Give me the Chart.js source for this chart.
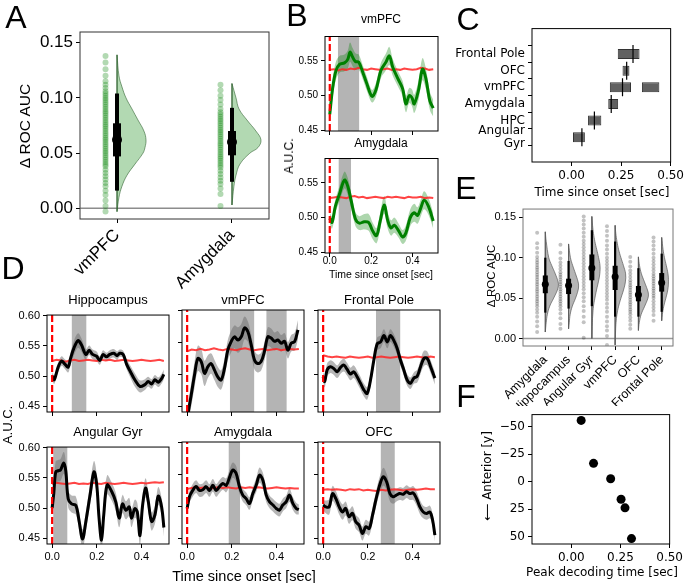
<!DOCTYPE html>
<html>
<head>
<meta charset="utf-8">
<script src="https://cdn.jsdelivr.net/npm/chart.js@4.4.0/dist/chart.umd.min.js"></script>
<style>
  body { margin: 0; background: #fff; width: 685px; height: 583px; position: relative; overflow: hidden; }
  canvas { position: absolute; }
  .t { position: absolute; white-space: nowrap; line-height: 1; color: #000; transform: translate(-50%, -50%); }
</style>
</head>
<body>
<script>
// ---- A: violins ----
const aRegions = ['vmPFC', 'Amygdala'];
const aMedian = [0.062, 0.060];
const aBoxLow = [0.047, 0.048];
const aBoxHigh = [0.077, 0.070];
const aWhiskLow = [0.016, 0.024];
const aWhiskHigh = [0.104, 0.091];
const aViolinY = [
  [0.139, 0.12, 0.11, 0.10, 0.09, 0.08, 0.07, 0.062, 0.055, 0.05, 0.04, 0.03, 0.02, 0.01, -0.003],
  [0.113, 0.10, 0.09, 0.08, 0.07, 0.062, 0.055, 0.05, 0.04, 0.03, 0.02, 0.003]
];
const aViolinW = [
  [0, 0.017, 0.043, 0.078, 0.13, 0.182, 0.234, 0.252, 0.243, 0.226, 0.156, 0.087, 0.043, 0.017, 0],
  [0, 0.035, 0.061, 0.13, 0.208, 0.252, 0.226, 0.156, 0.069, 0.035, 0.017, 0]
];
const aDots = [
  [0.138, 0.132, 0.126, 0.12, 0.115, 0.112, 0.109, 0.106, 0.104, 0.102, 0.1, 0.098, 0.096, 0.094, 0.092, 0.09, 0.088, 0.086, 0.084, 0.082, 0.08, 0.078, 0.076, 0.074, 0.072, 0.07, 0.068, 0.066, 0.064, 0.062, 0.06, 0.058, 0.056, 0.054, 0.052, 0.05, 0.048, 0.046, 0.044, 0.042, 0.04, 0.038, 0.035, 0.032, 0.029, 0.026, 0.023, 0.02, 0.016, 0.012, 0.007, 0.002, -0.003],
  [0.112, 0.107, 0.102, 0.098, 0.094, 0.09, 0.087, 0.085, 0.083, 0.081, 0.079, 0.077, 0.075, 0.073, 0.071, 0.069, 0.067, 0.065, 0.063, 0.061, 0.059, 0.057, 0.055, 0.053, 0.051, 0.049, 0.047, 0.045, 0.043, 0.041, 0.039, 0.037, 0.034, 0.031, 0.028, 0.025, 0.022, 0.018, 0.013, 0.002]
];

// ---- shared null (red) curve time grid ----
const redT = [0, 0.02, 0.04, 0.06, 0.08, 0.1, 0.12, 0.14, 0.16, 0.18, 0.2, 0.22, 0.24, 0.26, 0.28, 0.3, 0.32, 0.34, 0.36, 0.38, 0.4, 0.42, 0.44, 0.46, 0.48, 0.5];

// ---- B: vmPFC / Amygdala (green) ----
const bVmT = [0, 0.014, 0.03, 0.047, 0.071, 0.087, 0.098, 0.111, 0.124, 0.14, 0.159, 0.178, 0.204, 0.223, 0.247, 0.271, 0.288, 0.304, 0.328, 0.352, 0.368, 0.384, 0.397, 0.408, 0.429, 0.448, 0.464, 0.484, 0.5];
const bVmMean = [0.473, 0.511, 0.536, 0.545, 0.547, 0.552, 0.5625, 0.555, 0.549, 0.548, 0.534, 0.518, 0.499, 0.508, 0.536, 0.548, 0.557, 0.541, 0.525, 0.510, 0.488, 0.500, 0.497, 0.488, 0.508, 0.538, 0.525, 0.492, 0.482];
const bVmErr = [0.012, 0.014, 0.013, 0.012, 0.012, 0.013, 0.014, 0.013, 0.012, 0.011, 0.01, 0.01, 0.009, 0.01, 0.011, 0.012, 0.013, 0.012, 0.011, 0.011, 0.012, 0.011, 0.012, 0.013, 0.014, 0.016, 0.015, 0.013, 0.012];
const bVmShade = [[0.039, 0.143]];
const bRedVm = [0.537, 0.538, 0.536, 0.538, 0.537, 0.539, 0.538, 0.540, 0.538, 0.537, 0.539, 0.538, 0.537, 0.538, 0.539, 0.537, 0.538, 0.537, 0.539, 0.538, 0.537, 0.538, 0.540, 0.539, 0.537, 0.538];

const bAmT = [0, 0.011, 0.027, 0.047, 0.071, 0.087, 0.103, 0.124, 0.143, 0.167, 0.188, 0.207, 0.226, 0.243, 0.263, 0.28, 0.296, 0.312, 0.333, 0.352, 0.368, 0.389, 0.408, 0.424, 0.44, 0.456, 0.477, 0.5];
const bAmMean = [0.499, 0.493, 0.516, 0.534, 0.554, 0.545, 0.525, 0.498, 0.492, 0.494, 0.493, 0.481, 0.474, 0.494, 0.518, 0.496, 0.485, 0.489, 0.481, 0.472, 0.478, 0.5, 0.507, 0.503, 0.514, 0.525, 0.516, 0.495];
const bAmErr = [0.008, 0.009, 0.01, 0.011, 0.012, 0.012, 0.011, 0.01, 0.01, 0.011, 0.012, 0.012, 0.011, 0.012, 0.013, 0.012, 0.011, 0.011, 0.01, 0.01, 0.011, 0.012, 0.013, 0.012, 0.012, 0.013, 0.012, 0.011];
const bAmShade = [[0.042, 0.103]];
const bRedAm = [0.528, 0.529, 0.530, 0.529, 0.528, 0.530, 0.531, 0.529, 0.530, 0.528, 0.529, 0.530, 0.529, 0.528, 0.530, 0.529, 0.530, 0.529, 0.528, 0.530, 0.529, 0.529, 0.530, 0.528, 0.529, 0.528];

// ---- C: peak windows ----
const cRegions = ['Angular\nGyr', 'HPC', 'Amygdala', 'vmPFC', 'OFC', 'Frontal Pole'];
const cStart = [0.007, 0.083, 0.185, 0.193, 0.257, 0.233];
const cEnd = [0.067, 0.15, 0.235, 0.30, 0.292, 0.343];
const cExtraStart = [0.355];
const cExtraEnd = [0.443];
const cExtraRow = [3];
const cPeak = [0.052, 0.115, 0.2, 0.257, 0.278, 0.31];

// ---- D: six regions (black) ----
const dHipT = [0, 0.009, 0.027, 0.042, 0.057, 0.072, 0.082, 0.097, 0.116, 0.131, 0.151, 0.166, 0.181, 0.199, 0.213, 0.228, 0.243, 0.258, 0.276, 0.291, 0.303, 0.318, 0.333, 0.351, 0.37, 0.393, 0.415, 0.43, 0.445, 0.46, 0.475, 0.49, 0.5];
const dHipMean = [0.5005, 0.494, 0.515, 0.525, 0.52, 0.515, 0.529, 0.546, 0.559, 0.552, 0.536, 0.543, 0.536, 0.533, 0.526, 0.536, 0.532, 0.536, 0.538, 0.534, 0.538, 0.536, 0.52, 0.507, 0.494, 0.483, 0.486, 0.491, 0.487, 0.494, 0.49, 0.496, 0.503];
const dHipErr = [0.006, 0.007, 0.008, 0.008, 0.008, 0.009, 0.01, 0.012, 0.012, 0.011, 0.009, 0.008, 0.008, 0.008, 0.007, 0.007, 0.007, 0.007, 0.007, 0.007, 0.006, 0.006, 0.008, 0.01, 0.011, 0.01, 0.009, 0.008, 0.008, 0.008, 0.008, 0.008, 0.008];
const dHipShade = [[0.087, 0.154]];
const dRedHip = [0.525, 0.527, 0.526, 0.524, 0.526, 0.527, 0.525, 0.526, 0.527, 0.526, 0.525, 0.527, 0.526, 0.527, 0.525, 0.526, 0.527, 0.526, 0.525, 0.526, 0.527, 0.526, 0.525, 0.526, 0.527, 0.525];

const dVmT = [0, 0.018, 0.033, 0.048, 0.063, 0.078, 0.093, 0.107, 0.122, 0.137, 0.152, 0.167, 0.182, 0.197, 0.212, 0.227, 0.242, 0.257, 0.272, 0.287, 0.301, 0.316, 0.331, 0.346, 0.361, 0.376, 0.391, 0.406, 0.421, 0.436, 0.451, 0.466, 0.481, 0.496];
const dVmMean = [0.43, 0.467, 0.499, 0.525, 0.52, 0.5015, 0.512, 0.517, 0.507, 0.496, 0.491, 0.509, 0.538, 0.5515, 0.559, 0.554, 0.559, 0.573, 0.567, 0.546, 0.523, 0.517, 0.52, 0.536, 0.559, 0.557, 0.552, 0.554, 0.549, 0.552, 0.538, 0.549, 0.5515, 0.57];
const dVmErr = [0.015, 0.018, 0.02, 0.02, 0.02, 0.02, 0.018, 0.016, 0.016, 0.016, 0.015, 0.015, 0.016, 0.017, 0.018, 0.02, 0.02, 0.018, 0.016, 0.016, 0.015, 0.014, 0.014, 0.014, 0.015, 0.015, 0.014, 0.014, 0.013, 0.013, 0.013, 0.013, 0.014, 0.015];
const dVmShade = [[0.191, 0.301], [0.354, 0.446]];
const dRedVm = [0.536, 0.539, 0.538, 0.540, 0.538, 0.539, 0.541, 0.539, 0.538, 0.540, 0.539, 0.538, 0.540, 0.541, 0.539, 0.538, 0.539, 0.540, 0.538, 0.539, 0.540, 0.538, 0.539, 0.540, 0.539, 0.540];

const dFpT = [0, 0.007, 0.018, 0.033, 0.048, 0.063, 0.078, 0.093, 0.107, 0.122, 0.137, 0.152, 0.167, 0.182, 0.197, 0.212, 0.227, 0.242, 0.257, 0.272, 0.287, 0.301, 0.316, 0.331, 0.346, 0.361, 0.376, 0.391, 0.406, 0.421, 0.436, 0.451, 0.466, 0.481, 0.5];
const dFpMean = [0.496, 0.4885, 0.507, 0.512, 0.509, 0.504, 0.511, 0.5145, 0.508, 0.5005, 0.504, 0.496, 0.486, 0.4755, 0.47, 0.491, 0.5225, 0.548, 0.551, 0.561, 0.551, 0.561, 0.5535, 0.541, 0.5225, 0.507, 0.491, 0.486, 0.494, 0.497, 0.512, 0.525, 0.525, 0.512, 0.494];
const dFpErr = [0.008, 0.009, 0.01, 0.01, 0.01, 0.01, 0.01, 0.01, 0.01, 0.01, 0.01, 0.01, 0.01, 0.01, 0.01, 0.01, 0.01, 0.01, 0.01, 0.01, 0.01, 0.01, 0.01, 0.01, 0.009, 0.009, 0.009, 0.009, 0.009, 0.01, 0.011, 0.012, 0.011, 0.01, 0.01];
const dFpShade = [[0.236, 0.346]];
const dRedFp = [0.530, 0.528, 0.527, 0.528, 0.527, 0.526, 0.528, 0.527, 0.526, 0.527, 0.528, 0.526, 0.527, 0.528, 0.527, 0.526, 0.527, 0.528, 0.527, 0.526, 0.527, 0.528, 0.527, 0.526, 0.528, 0.527];

const dAgT = [0, 0.0075, 0.016, 0.027, 0.037, 0.052, 0.061, 0.072, 0.087, 0.106, 0.121, 0.136, 0.151, 0.169, 0.187, 0.199, 0.21, 0.221, 0.231, 0.246, 0.266, 0.285, 0.3, 0.315, 0.33, 0.345, 0.355, 0.37, 0.381, 0.393, 0.404, 0.418, 0.43, 0.445, 0.46, 0.475, 0.49, 0.5];
const dAgMean = [0.5, 0.525, 0.56, 0.562, 0.563, 0.575, 0.562, 0.515, 0.507, 0.5045, 0.478, 0.449, 0.478, 0.52, 0.56, 0.541, 0.4835, 0.447, 0.489, 0.5385, 0.528, 0.51, 0.4835, 0.507, 0.4965, 0.502, 0.4835, 0.499, 0.494, 0.4545, 0.502, 0.5335, 0.512, 0.478, 0.489, 0.52, 0.502, 0.468];
const dAgErr = [0.01, 0.015, 0.018, 0.018, 0.018, 0.018, 0.016, 0.014, 0.014, 0.015, 0.015, 0.016, 0.016, 0.017, 0.018, 0.017, 0.016, 0.016, 0.016, 0.016, 0.015, 0.015, 0.015, 0.015, 0.015, 0.015, 0.015, 0.015, 0.015, 0.016, 0.016, 0.016, 0.015, 0.015, 0.015, 0.015, 0.015, 0.015];
const dAgShade = [[0.0045, 0.069]];
const dRedAg = [0.540, 0.542, 0.541, 0.540, 0.541, 0.542, 0.540, 0.541, 0.540, 0.542, 0.541, 0.540, 0.542, 0.541, 0.540, 0.541, 0.542, 0.541, 0.540, 0.541, 0.542, 0.541, 0.542, 0.543, 0.542, 0.543];

const dAmT = [0, 0.0104, 0.025, 0.04, 0.055, 0.07, 0.085, 0.1, 0.115, 0.13, 0.145, 0.16, 0.175, 0.19, 0.204, 0.219, 0.234, 0.249, 0.264, 0.279, 0.294, 0.309, 0.324, 0.339, 0.354, 0.369, 0.384, 0.399, 0.413, 0.428, 0.443, 0.458, 0.473, 0.488, 0.5];
const dAmMean = [0.4966, 0.515, 0.525, 0.531, 0.525, 0.526, 0.531, 0.525, 0.533, 0.525, 0.531, 0.536, 0.533, 0.546, 0.557, 0.552, 0.531, 0.5176, 0.512, 0.5045, 0.52, 0.533, 0.549, 0.541, 0.5176, 0.507, 0.502, 0.4966, 0.494, 0.502, 0.507, 0.5176, 0.5045, 0.4966, 0.495];
const dAmErr = [0.007, 0.009, 0.01, 0.01, 0.01, 0.01, 0.01, 0.01, 0.01, 0.01, 0.01, 0.01, 0.011, 0.012, 0.012, 0.012, 0.011, 0.01, 0.01, 0.01, 0.01, 0.011, 0.012, 0.012, 0.011, 0.01, 0.01, 0.01, 0.01, 0.01, 0.01, 0.011, 0.01, 0.009, 0.008];
const dAmShade = [[0.185, 0.237]];
const dRedAm = [0.527, 0.529, 0.530, 0.529, 0.530, 0.528, 0.529, 0.530, 0.529, 0.530, 0.529, 0.528, 0.530, 0.529, 0.530, 0.529, 0.530, 0.529, 0.528, 0.529, 0.530, 0.529, 0.528, 0.529, 0.528, 0.528];

const dOfcT = [0, 0.012, 0.027, 0.042, 0.057, 0.072, 0.087, 0.101, 0.116, 0.131, 0.146, 0.161, 0.176, 0.191, 0.206, 0.221, 0.236, 0.251, 0.269, 0.284, 0.299, 0.313, 0.328, 0.343, 0.358, 0.373, 0.388, 0.403, 0.418, 0.433, 0.448, 0.463, 0.478, 0.49, 0.5];
const dOfcMean = [0.502, 0.499, 0.499, 0.52, 0.512, 0.499, 0.491, 0.4966, 0.4835, 0.489, 0.4756, 0.4703, 0.4572, 0.4677, 0.465, 0.486, 0.51, 0.531, 0.5465, 0.5386, 0.52, 0.515, 0.5176, 0.52, 0.519, 0.523, 0.52, 0.521, 0.5123, 0.499, 0.491, 0.4887, 0.491, 0.478, 0.4546];
const dOfcErr = [0.008, 0.01, 0.012, 0.012, 0.012, 0.012, 0.012, 0.011, 0.011, 0.011, 0.011, 0.011, 0.011, 0.011, 0.011, 0.012, 0.012, 0.013, 0.014, 0.013, 0.012, 0.011, 0.01, 0.01, 0.01, 0.01, 0.01, 0.011, 0.011, 0.011, 0.01, 0.01, 0.01, 0.01, 0.01];
const dOfcShade = [[0.257, 0.321]];
const dRedOfc = [0.526, 0.527, 0.526, 0.527, 0.526, 0.525, 0.527, 0.526, 0.527, 0.525, 0.526, 0.525, 0.524, 0.526, 0.525, 0.526, 0.527, 0.526, 0.525, 0.526, 0.527, 0.526, 0.527, 0.528, 0.527, 0.527];

// ---- E: six violins ----
const eRegions = ['Amygdala', 'Hippocampus', 'Angular Gyr', 'vmPFC', 'OFC', 'Frontal Pole'];
const eMedian = [0.0672, 0.0656, 0.0873, 0.0765, 0.054, 0.069];
const eBoxLow = [0.056, 0.055, 0.072, 0.06, 0.046, 0.058];
const eBoxHigh = [0.078, 0.074, 0.104, 0.09, 0.065, 0.081];
const eWhiskLow = [0.032, 0.037, 0.04, 0.027, 0.027, 0.033];
const eWhiskHigh = [0.1, 0.096, 0.134, 0.12, 0.087, 0.105];
const eViolinY = [
  [0.132, 0.12, 0.10, 0.09, 0.08, 0.07, 0.065, 0.06, 0.05, 0.04, 0.03, 0.02, 0.008],
  [0.117, 0.10, 0.09, 0.08, 0.07, 0.065, 0.06, 0.05, 0.04, 0.03, 0.02, 0.012],
  [0.151, 0.14, 0.13, 0.12, 0.11, 0.10, 0.09, 0.08, 0.07, 0.06, 0.05, 0.04, 0.03, 0.02, 0.0],
  [0.14, 0.13, 0.12, 0.11, 0.10, 0.09, 0.08, 0.07, 0.06, 0.05, 0.04, 0.03, 0.02, 0.01, -0.008],
  [0.101, 0.09, 0.08, 0.07, 0.06, 0.055, 0.05, 0.04, 0.03, 0.02, 0.01],
  [0.125, 0.11, 0.10, 0.09, 0.08, 0.07, 0.06, 0.05, 0.04, 0.03, 0.022]
];
const eViolinW = [
  [0, 0.04, 0.15, 0.28, 0.43, 0.55, 0.56, 0.52, 0.36, 0.19, 0.09, 0.04, 0],
  [0, 0.08, 0.18, 0.3, 0.41, 0.43, 0.41, 0.3, 0.16, 0.07, 0.03, 0],
  [0, 0.03, 0.07, 0.13, 0.21, 0.29, 0.35, 0.34, 0.28, 0.2, 0.13, 0.07, 0.04, 0.02, 0],
  [0, 0.03, 0.08, 0.15, 0.25, 0.36, 0.45, 0.44, 0.36, 0.25, 0.15, 0.08, 0.04, 0.02, 0],
  [0, 0.05, 0.13, 0.26, 0.39, 0.43, 0.41, 0.27, 0.12, 0.04, 0],
  [0, 0.06, 0.12, 0.2, 0.27, 0.29, 0.26, 0.18, 0.09, 0.03, 0]
];
const eDots = [
  [0.131, 0.118, 0.112, 0.106, 0.101, 0.097, 0.094, 0.091, 0.088, 0.085, 0.082, 0.079, 0.076, 0.073, 0.07, 0.067, 0.064, 0.061, 0.058, 0.055, 0.052, 0.049, 0.046, 0.043, 0.04, 0.036, 0.032, 0.027, 0.021, 0.015, 0.008],
  [0.116, 0.106, 0.099, 0.094, 0.09, 0.086, 0.082, 0.079, 0.076, 0.073, 0.07, 0.067, 0.064, 0.061, 0.058, 0.055, 0.052, 0.049, 0.046, 0.043, 0.04, 0.036, 0.031, 0.025, 0.018, 0.012],
  [0.151, 0.146, 0.141, 0.136, 0.131, 0.126, 0.121, 0.117, 0.113, 0.109, 0.105, 0.101, 0.097, 0.093, 0.089, 0.085, 0.081, 0.077, 0.073, 0.069, 0.065, 0.061, 0.056, 0.051, 0.046, 0.04, 0.034, 0.027, 0.02, 0.001],
  [0.139, 0.133, 0.127, 0.121, 0.115, 0.11, 0.105, 0.1, 0.096, 0.092, 0.088, 0.084, 0.08, 0.076, 0.072, 0.068, 0.064, 0.06, 0.056, 0.052, 0.048, 0.043, 0.038, 0.033, 0.027, 0.021, 0.015, 0.01, 0.003, -0.008],
  [0.101, 0.095, 0.089, 0.084, 0.08, 0.076, 0.072, 0.069, 0.066, 0.063, 0.06, 0.057, 0.054, 0.051, 0.048, 0.045, 0.042, 0.039, 0.036, 0.033, 0.03, 0.026, 0.022, 0.017, 0.012],
  [0.125, 0.12, 0.115, 0.11, 0.105, 0.1, 0.096, 0.092, 0.088, 0.084, 0.08, 0.077, 0.074, 0.071, 0.068, 0.065, 0.062, 0.059, 0.056, 0.053, 0.05, 0.046, 0.042, 0.038, 0.034, 0.029, 0.022]
];

// ---- F: peak time vs anterior position ----
const fPeak = [0.05, 0.113, 0.2, 0.253, 0.273, 0.306];
const fAnterior = [-55.5, -16.6, -2.6, 16, 23.8, 51.7];

// ---------------------------------------------------------------
Chart.defaults.font.family = 'Liberation Sans';
Chart.defaults.color = '#000';
Chart.defaults.animation = false;
Chart.defaults.events = [];
Chart.defaults.plugins.legend.display = false;
Chart.defaults.plugins.tooltip.enabled = false;
Chart.defaults.elements.point.radius = 0;

// box round each plot area
Chart.register({
  id: 'frame',
  defaults: { color: '#000', width: 1 },
  afterDatasetsDraw(chart, args, opts) {
    const a = chart.chartArea, ctx = chart.ctx;
    ctx.save();
    ctx.strokeStyle = opts.color;
    ctx.lineWidth = opts.width;
    ctx.strokeRect(a.left, a.top, a.right - a.left, a.bottom - a.top);
    ctx.restore();
  }
});

// plot = [left, top, width, height] of the plot area, m = [left, top, right, bottom] margins
function mk(plot, m, cfg) {
  const c = document.createElement('canvas');
  c.width = plot[2] + m[0] + m[2];
  c.height = plot[3] + m[1] + m[3];
  c.style.left = (plot[0] - m[0]) + 'px';
  c.style.top = (plot[1] - m[1]) + 'px';
  document.body.appendChild(c);
  const o = cfg.options;
  o.responsive = false;
  o.devicePixelRatio = 1;
  o.layout = { padding: { left: 0, top: m[1], right: m[2], bottom: 0 }, autoPadding: false };
  o.scales.x.afterFit = s => { s.height = m[3]; };
  o.scales.y.afterFit = s => { s.width = m[0]; };
  return new Chart(c, cfg);
}

function ax(min, max, ticks, fmt, size, show, rot) {
  return {
    type: 'linear', min, max,
    afterBuildTicks: s => { s.ticks = ticks.map(v => ({ value: v })); },
    ticks: { display: show, callback: fmt, font: { size, lineHeight: 1.1 }, autoSkip: false,
             maxRotation: rot || 0, minRotation: rot || 0, padding: 3, color: '#000' },
    grid: { drawOnChartArea: false, drawTicks: true, tickLength: 4, tickColor: '#000' },
    border: { display: false }
  };
}

function txt(s, x, y, size, fam, rot) {
  const d = document.createElement('div');
  d.className = 't';
  d.textContent = s;
  d.style.left = x + 'px';
  d.style.top = y + 'px';
  d.style.fontSize = size + 'px';
  d.style.fontFamily = fam || 'Liberation Sans';
  if (rot) d.style.transform = 'translate(-50%,-50%) rotate(-90deg)';
  document.body.appendChild(d);
}

// half violin + box + strip, for a chart with indexAxis 'y'
function violinSets(c, ys, ws, box, whisk, med, dots, dotDx, st) {
  return [
    { data: [{ x: c, y: med }], showLine: false, pointRadius: st.medR, pointBackgroundColor: '#000', pointBorderWidth: 0 },
    { data: [{ x: c, y: box[0] }, { x: c, y: box[1] }], borderColor: '#000', borderWidth: st.boxW, borderCapStyle: 'butt' },
    { data: [{ x: c, y: whisk[0] }, { x: c, y: whisk[1] }], borderColor: '#000', borderWidth: st.whiskW },
    { data: [{ x: c, y: ys[0] }, { x: c, y: ys[ys.length - 1] }], borderColor: st.edge, borderWidth: 1 },
    { data: ys.map((y, i) => ({ x: c + ws[i], y })), fill: { value: c }, backgroundColor: st.fill,
      borderColor: st.edge, borderWidth: 1, tension: 0.4 },
    { data: dots.map(y => ({ x: c + dotDx, y })), showLine: false, pointRadius: st.dotR,
      pointBackgroundColor: st.dot, pointBorderWidth: 0 }
  ];
}

// ---- A ----
const aStyle = { fill: 'rgba(0,128,0,0.3)', edge: 'rgba(50,100,50,0.6)', dot: 'rgba(0,128,0,0.3)',
                 dotR: 3, medR: 5, boxW: 8, whiskW: 4 };
let aSets = [];
aRegions.forEach((r, i) => {
  aSets = aSets.concat(violinSets(i, aViolinY[i], aViolinW[i], [aBoxLow[i], aBoxHigh[i]],
    [aWhiskLow[i], aWhiskHigh[i]], aMedian[i], aDots[i], -0.1, aStyle));
});
aSets.push({ data: [{ x: -0.32, y: 0 }, { x: 1.32, y: 0 }], borderColor: '#8c8c8c', borderWidth: 1.5 });
mk([80, 32, 189, 187], [80, 32, 12, 90], {
  type: 'line', data: { datasets: aSets },
  options: {
    indexAxis: 'y',
    scales: {
      x: ax(-0.322, 1.322, [0, 1], (v, i) => aRegions[i], 17, true, 45),
      y: ax(-0.0097, 0.1597, [0, 0.05, 0.1, 0.15], v => v.toFixed(2), 17, true)
    },
    plugins: { frame: { color: '#333' } }
  }
});

// ---- B and D line panels ----
function timeChart(plot, p, color, band, fs, showX, showY, yTicks, yMin, yMax, xPad) {
  const sets = [
    { data: [{ x: 0, y: yMin }, { x: 0, y: yMax }], borderColor: '#ff0000', borderWidth: 2.2, borderDash: [7, 3] },
    { data: p.t.map((x, i) => ({ x, y: p.m[i] })), borderColor: color, borderWidth: 3, tension: 0.35 },
    { data: redT.map((x, i) => ({ x, y: p.r[i] })), borderColor: 'rgba(255,35,35,0.85)', borderWidth: 2 },
    { data: p.t.map((x, i) => ({ x, y: p.m[i] + p.e[i] })), borderWidth: 0, tension: 0.35 },
    { data: p.t.map((x, i) => ({ x, y: p.m[i] - p.e[i] })), borderWidth: 0, tension: 0.35, fill: '-1', backgroundColor: band }
  ];
  p.s.forEach(s => sets.push({ data: [{ x: s[0], y: yMax }, { x: s[1], y: yMax }], borderWidth: 0,
                               fill: 'start', backgroundColor: 'rgba(105,105,105,0.5)' }));
  const x = ax(-0.023, 0.523, [0, 0.2, 0.4], v => v.toFixed(1), fs, showX);
  x.ticks.padding = xPad;
  return mk(plot, [40, 4, 4, 20], {
    type: 'line', data: { datasets: sets },
    options: { scales: { x, y: ax(yMin, yMax, yTicks, v => v.toFixed(2), fs, showY) } }
  });
}

const green = 'rgb(0,128,0)', greenBand = 'rgba(0,128,0,0.32)';
timeChart([325, 32, 113, 99], { t: bVmT, m: bVmMean, e: bVmErr, s: bVmShade, r: bRedVm },
  green, greenBand, 10, false, true, [0.45, 0.5, 0.55], 0.449, 0.585, 0);
timeChart([325, 154, 113, 99], { t: bAmT, m: bAmMean, e: bAmErr, s: bAmShade, r: bRedAm },
  green, greenBand, 10, true, true, [0.45, 0.5, 0.55], 0.449, 0.585, -1);

const dPanels = [
  { title: 'Hippocampus', t: dHipT, m: dHipMean, e: dHipErr, s: dHipShade, r: dRedHip },
  { title: 'vmPFC', t: dVmT, m: dVmMean, e: dVmErr, s: dVmShade, r: dRedVm },
  { title: 'Frontal Pole', t: dFpT, m: dFpMean, e: dFpErr, s: dFpShade, r: dRedFp },
  { title: 'Angular Gyr', t: dAgT, m: dAgMean, e: dAgErr, s: dAgShade, r: dRedAg },
  { title: 'Amygdala', t: dAmT, m: dAmMean, e: dAmErr, s: dAmShade, r: dRedAm },
  { title: 'OFC', t: dOfcT, m: dOfcMean, e: dOfcErr, s: dOfcShade, r: dRedOfc }
];
const dCols = [47, 182, 318], dRows = [310, 442];
dPanels.forEach((p, k) => {
  const col = k % 3, row = Math.floor(k / 3);
  timeChart([dCols[col], dRows[row], 122, 102], p, '#000', 'rgba(110,110,110,0.5)', 11,
    row === 1, col === 0, [0.45, 0.5, 0.55, 0.6], 0.4406, 0.6013, 3);
  txt(p.title, dCols[col] + 61, row === 0 ? 299 : 431, 13);
});

// ---- C ----
const cSets = cPeak.map((p, i) => ({ type: 'line', data: [{ x: p, y: i - 0.54 }, { x: p, y: i + 0.54 }],
                                    borderColor: '#000', borderWidth: 1.2 }));
const barStyle = { backgroundColor: 'rgba(75,75,75,0.88)', borderColor: '#333', borderWidth: 1,
                   borderSkipped: false, barPercentage: 0.6, categoryPercentage: 1, grouped: false };
cSets.push(Object.assign({ type: 'bar', data: cStart.map((s, i) => ({ x: [s, cEnd[i]], y: i })) }, barStyle));
cSets.push(Object.assign({ type: 'bar', data: cExtraStart.map((s, i) => ({ x: [s, cExtraEnd[i]], y: cExtraRow[i] })) }, barStyle));
const cChart = {
  type: 'bar', data: { datasets: cSets },
  options: {
    indexAxis: 'y',
    scales: {
      x: ax(-0.2, 0.5, [0, 0.25, 0.5], v => v.toFixed(2), 12, true),
      y: ax(-0.825, 5.86, [0, 1, 2, 3, 4, 5], (v, i) => cRegions[i].split('\n'), 12, true)
    }
  }
};
cChart.options.scales.x.ticks.font.family = 'DejaVu Sans';
cChart.options.scales.y.ticks.font.family = 'DejaVu Sans';
mk([532, 24, 140, 138], [100, 5, 15, 20], cChart);

// ---- E ----
const eStyle = { fill: 'rgba(120,120,120,0.55)', edge: 'rgba(90,90,90,0.7)', dot: 'rgba(0,0,0,0.24)',
                 dotR: 2, medR: 3.5, boxW: 5, whiskW: 2.2 };
let eSets = [];
eRegions.forEach((r, i) => {
  eSets = eSets.concat(violinSets(i, eViolinY[i], eViolinW[i], [eBoxLow[i], eBoxHigh[i]],
    [eWhiskLow[i], eWhiskHigh[i]], eMedian[i], eDots[i], -0.35, eStyle));
});
eSets.push({ data: [{ x: -0.96, y: 0 }, { x: 5.49, y: 0 }], borderColor: '#999', borderWidth: 1.5 });
mk([523, 205, 150, 141], [40, 5, 10, 60], {
  type: 'line', data: { datasets: eSets },
  options: {
    indexAxis: 'y',
    scales: {
      x: ax(-0.958, 5.486, [0, 1, 2, 3, 4, 5], (v, i) => eRegions[i], 12.5, true, 45),
      y: ax(-0.0093, 0.1602, [0, 0.05, 0.1, 0.15], v => v.toFixed(2), 11, true)
    },
    plugins: { frame: { color: '#777' } }
  }
});

// ---- F ----
const fChart = {
  type: 'scatter',
  data: { datasets: [{ data: fPeak.map((x, i) => ({ x, y: fAnterior[i] })), pointRadius: 4.5,
                       pointBackgroundColor: '#000', pointBorderWidth: 0 }] },
  options: { scales: {
    x: ax(-0.2, 0.5, [0, 0.25, 0.5], v => v.toFixed(2), 12, true),
    y: ax(-60.8, 56.6, [-50, -25, 0, 25, 50], v => (v < 0 ? '\u2212' + (-v) : String(v)), 12, true)
  } }
};
fChart.options.scales.y.reverse = true;
fChart.options.scales.x.ticks.font.family = 'DejaVu Sans';
fChart.options.scales.y.ticks.font.family = 'DejaVu Sans';
mk([532, 410, 139, 134], [45, 5, 15, 22], fChart);

// ---- text ----
txt('A', 16, 17, 32);
txt('B', 297, 15, 32);
txt('C', 468, 19, 32);
txt('D', 13, 268, 32);
txt('E', 466, 188, 32);
txt('F', 466, 396, 32);

txt('\u0394 ROC AUC', 25, 126, 15.5, null, true);
txt('vmPFC', 381, 19, 12);
txt('Amygdala', 381, 143, 12);
txt('A.U.C.', 289, 156, 12, null, true);
txt('Time since onset [sec]', 381, 274, 10.5);
txt('Time since onset [sec]', 602, 192, 12, 'DejaVu Sans');
txt('A.U.C.', 7, 425, 13, null, true);
txt('Time since onset [sec]', 244, 576, 14.5);
txt('\u0394 ROC AUC', 492, 276, 11.5, null, true);
txt('\u27F5 Anterior [y]', 487, 476, 12, 'DejaVu Sans', true);
txt('Peak decoding time [sec]', 602, 572, 12, 'DejaVu Sans');
</script>
</body>
</html>
